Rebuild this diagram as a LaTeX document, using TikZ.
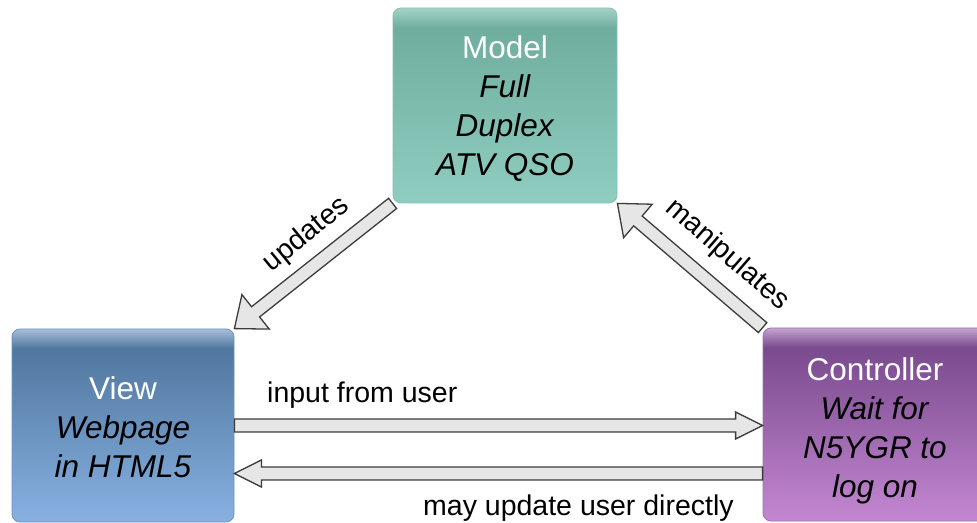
\documentclass[tikz,border=0pt]{standalone}
\usepackage{fontspec}
\setmainfont{Liberation Sans}
\usetikzlibrary{calc}
\definecolor{arrowfill}{HTML}{E6E6E6}
\definecolor{arrowline}{HTML}{3C3C3C}
\definecolor{mS}{HTML}{A3D3C7}
\definecolor{mM}{HTML}{6FAE9F}
\definecolor{mB}{HTML}{8FCDC0}
\definecolor{mL}{HTML}{86C2B4}
\definecolor{vS}{HTML}{A9BEDA}
\definecolor{vM}{HTML}{50779F}
\definecolor{vB}{HTML}{88B1E2}
\definecolor{vL}{HTML}{6F92BE}
\definecolor{cS}{HTML}{C3A4CF}
\definecolor{cM}{HTML}{7A4A8E}
\definecolor{cB}{HTML}{C387D1}
\definecolor{cL}{HTML}{A072B2}
\pgfdeclareverticalshading{modelshade}{100bp}{color(0bp)=(mB); color(25bp)=(mB); color(70bp)=(mM); color(75bp)=(mS); color(100bp)=(mS)}
\pgfdeclareverticalshading{viewshade}{100bp}{color(0bp)=(vB); color(25bp)=(vB); color(70bp)=(vM); color(75bp)=(vS); color(100bp)=(vS)}
\pgfdeclareverticalshading{ctrlshade}{100bp}{color(0bp)=(cB); color(25bp)=(cB); color(70bp)=(cM); color(75bp)=(cS); color(100bp)=(cS)}
\tikzset{
  mvcbox/.style={rectangle, rounded corners=8pt, inner sep=0pt, line width=0.8pt},
  boxtext/.style={inner sep=0pt, align=center, font=\fontsize{31.5}{39}\selectfont},
  lbl/.style={inner sep=0pt, font=\fontsize{28.5}{34}\selectfont},
  blockarrow/.style={draw=arrowline, fill=arrowfill, line width=1.3pt, line join=miter,
    to path={
      ($(\tikztostart)!6.5pt!90:(\tikztotarget)$)
      -- ($(\tikztotarget)!27pt!(\tikztostart)!6.5pt!90:(\tikztotarget)$)
      -- ($(\tikztotarget)!27pt!(\tikztostart)!#1!90:(\tikztotarget)$)
      -- (\tikztotarget)
      -- ($(\tikztotarget)!27pt!(\tikztostart)!#1!-90:(\tikztotarget)$)
      -- ($(\tikztotarget)!27pt!(\tikztostart)!6.5pt!-90:(\tikztotarget)$)
      -- ($(\tikztostart)!6.5pt!-90:(\tikztotarget)$)
      -- cycle}},
  blockarrow/.default=13.5pt
}
\begin{document}
\begin{tikzpicture}[x=1pt,y=1pt]
\useasboundingbox (0,0) rectangle (977,522);
\fill[white] (0,0) rectangle (977,522);
\clip (0,0) rectangle (977,522);

\node[mvcbox, shading=modelshade, draw=mL, minimum width=224pt, minimum height=195pt]
  (model) at (505,416.5) {};
\node[boxtext] (modeltxt) at ([yshift=-3pt]model.center)
  {{\color{white}Model}\\\textit{Full}\\\textit{Duplex}\\\textit{ATV QSO}};
\node[mvcbox, shading=viewshade, draw=vL, minimum width=222pt, minimum height=193pt]
  (view) at (123,96.5) {};
\node[boxtext] (viewtxt) at ([yshift=-2pt]view.center)
  {{\color{white}View}\\\textit{Webpage}\\\textit{in HTML5}};
\node[mvcbox, shading=ctrlshade, draw=cL, minimum width=224pt, minimum height=193pt]
  (ctrl) at (875,97.5) {};
\node[boxtext] (ctrltxt) at ([yshift=-6pt]ctrl.center)
  {{\color{white}Controller}\\\textit{Wait for}\\\textit{N5YGR to}\\\textit{log on}};

\coordinate (hiA) at (view.east);
\coordinate (hiB) at (hiA -| ctrl.west);
\coordinate (loA) at ([yshift=-48pt]view.east);
\coordinate (loB) at (loA -| ctrl.west);

\path[blockarrow=22pt] (model.south west) to (view.north east);
\path[blockarrow=22pt] (ctrl.north west) to (model.south east);
\path[blockarrow] (hiA) to (hiB);
\path[blockarrow] (loB) to (loA);

\node[lbl, rotate=39.4] (lupd) at (306.5,287) {updates};
\node[lbl, rotate=-40.9] (lman) at (727,267) {manipulates};
\node[lbl, anchor=base west] (linp) at (267,119) {input from user};
\node[lbl, anchor=base west] (lmay) at (423,7) {may update user directly};
\end{tikzpicture}
\end{document}
